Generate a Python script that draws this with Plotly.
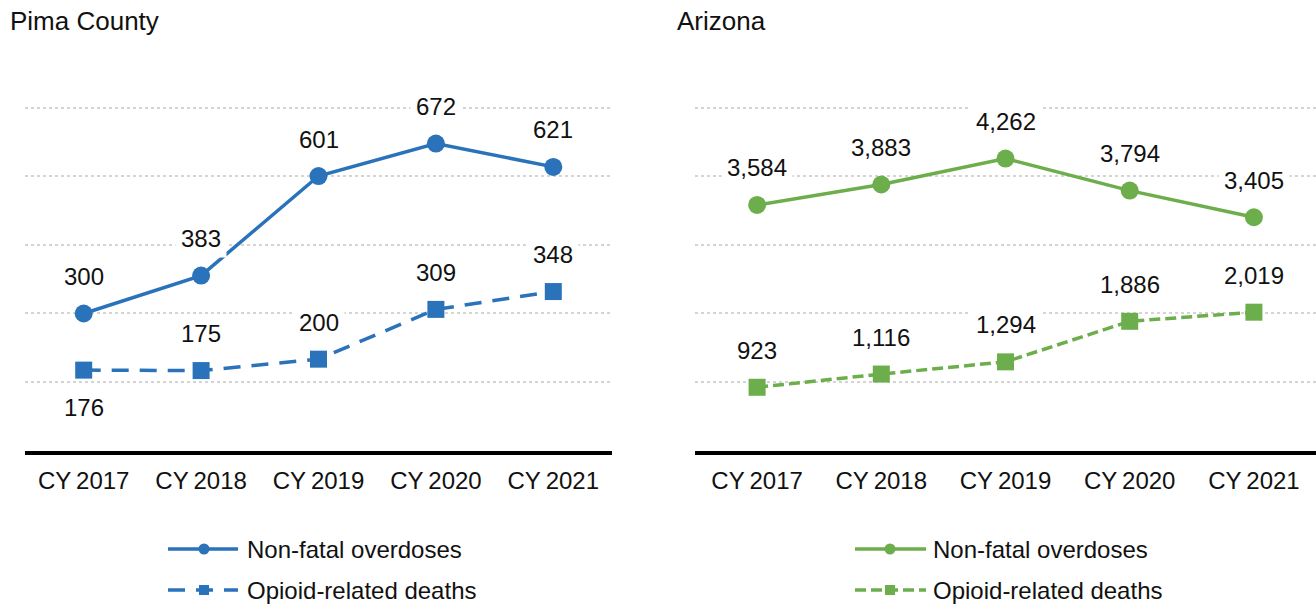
import plotly.graph_objects as go

# Calendar years shown on both panels
years = ["CY\u20092017", "CY\u20092018", "CY\u20092019", "CY\u20092020", "CY\u20092021"]

# Pima County counts
pima_nonfatal = [300, 383, 601, 672, 621]
pima_deaths = [176, 175, 200, 309, 348]

# Arizona statewide counts
az_nonfatal = [3584, 3883, 4262, 3794, 3405]
az_deaths = [923, 1116, 1294, 1886, 2019]

# Which side of the marker each death label sits on (+1 above, -1 below)
pima_deaths_side = [-1, 1, 1, 1, 1]

W, H = 1316, 605
BLUE = "#2a72ba"
GREEN = "#6cae4b"
FONT = "Liberation Sans, Arial, sans-serif"
TXT = "#111111"
PIMA_DASH = "17px,11px"
AZ_DASH = "11px,5px"


def pxx(x):
    return x / W


def pxy(y):
    return 1 - y / H


fig = go.Figure()

# Lines with markers for each panel
panels = [
    ("x", "y", pima_nonfatal, pima_deaths, BLUE, PIMA_DASH),
    ("x2", "y2", az_nonfatal, az_deaths, GREEN, AZ_DASH),
]
for xa, ya, nonfatal, deaths, color, dash in panels:
    fig.add_trace(go.Scatter(
        x=years, y=deaths, xaxis=xa, yaxis=ya, mode="lines+markers",
        name="Opioid-related deaths",
        line=dict(color=color, width=3.5, dash=dash),
        marker=dict(symbol="square", size=17, color=color),
        cliponaxis=False,
    ))
    fig.add_trace(go.Scatter(
        x=years, y=nonfatal, xaxis=xa, yaxis=ya, mode="lines+markers",
        name="Non-fatal overdoses",
        line=dict(color=color, width=3.5),
        marker=dict(symbol="circle", size=18, color=color),
        cliponaxis=False,
    ))

annotations = []


def value_labels(values, xa, ya, sides=None):
    for i, (yr, v) in enumerate(zip(years, values)):
        side = 1 if sides is None else sides[i]
        annotations.append(dict(
            x=yr, y=v, xref=xa, yref=ya, text=f"{v:,}", showarrow=False,
            yshift=37 * side, bgcolor="white", borderpad=5,
            font=dict(family=FONT, size=24, color=TXT),
        ))


value_labels(pima_nonfatal, "x", "y")
value_labels(pima_deaths, "x", "y", pima_deaths_side)
value_labels(az_nonfatal, "x2", "y2")
value_labels(az_deaths, "x2", "y2")

# Panel titles
for x, text in [(8, "Pima County"), (675, "Arizona")]:
    annotations.append(dict(
        x=pxx(x), y=pxy(21), xref="paper", yref="paper", xanchor="left",
        yanchor="middle", text=text, showarrow=False,
        font=dict(family=FONT, size=26, color=TXT),
    ))

# Legends drawn under each panel
shapes = []
legend_rows = [(549, "Non-fatal overdoses", "circle", None), (590, "Opioid-related deaths", "square", "dash")]
for x0, x1, xm, xt, color, dash in [
    (168, 238, 204, 245, BLUE, PIMA_DASH),
    (855, 926, 890, 931, GREEN, AZ_DASH),
]:
    for y, label, sym, d in legend_rows:
        shapes.append(dict(
            type="line", xref="paper", yref="paper",
            x0=pxx(x0), x1=pxx(x1), y0=pxy(y), y1=pxy(y),
            line=dict(color=color, width=3.5, dash=dash if d else "solid"),
        ))
        r = 5.5 if sym == "circle" else 5
        shapes.append(dict(
            type="circle" if sym == "circle" else "rect",
            xref="paper", yref="paper",
            x0=pxx(xm - r), x1=pxx(xm + r), y0=pxy(y + r), y1=pxy(y - r),
            fillcolor=color, line=dict(width=0),
        ))
        annotations.append(dict(
            x=pxx(xt), y=pxy(y), xref="paper", yref="paper", xanchor="left",
            yanchor="middle", text=label, showarrow=False,
            font=dict(family=FONT, size=24, color=TXT),
        ))

# Plot area spans a little above the top gridline so that it is drawn
ydom = [1 - 450.5 / H, 1 - 103.4 / H]
xaxis_common = dict(
    type="category", range=[-0.5, 4.5], showgrid=False, zeroline=False,
    showline=True, linecolor="black", linewidth=4, ticks="",
    ticklabelstandoff=6,
    tickfont=dict(family=FONT, size=24, color=TXT), fixedrange=True,
)
yaxis_common = dict(
    showticklabels=False, zeroline=False, showline=False, ticks="",
    gridcolor="#d4d4d4", griddash="dot", gridwidth=1.5, domain=ydom,
    fixedrange=True,
)

fig.update_layout(
    width=W, height=H, margin=dict(l=0, r=0, t=0, b=0),
    paper_bgcolor="white", plot_bgcolor="white", showlegend=False,
    xaxis=dict(domain=[pxx(25), pxx(612)], anchor="y", **xaxis_common),
    yaxis=dict(anchor="x", range=[0, 760], dtick=150, **yaxis_common),
    xaxis2=dict(domain=[pxx(695), 1], anchor="y2", **xaxis_common),
    yaxis2=dict(anchor="x2", range=[0, 5066.7], dtick=1000, **yaxis_common),
    annotations=annotations, shapes=shapes,
    font=dict(family=FONT, color=TXT),
)

fig.write_html("out.html")
